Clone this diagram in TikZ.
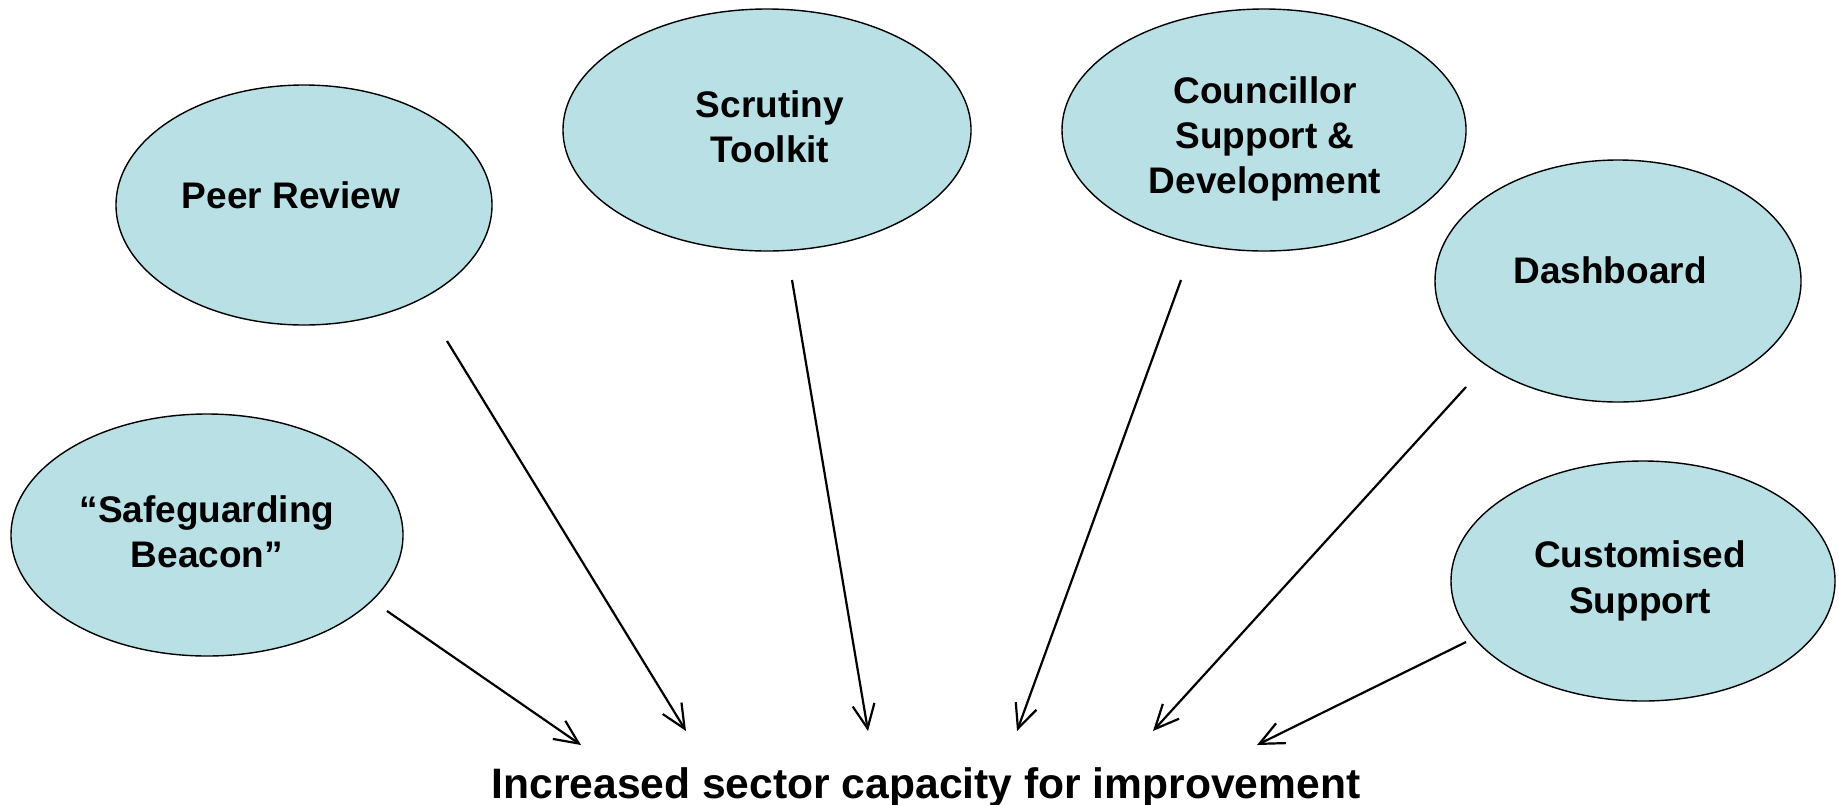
\documentclass[tikz,border=0pt]{standalone}
\usepackage{fontspec}
\setmainfont{Liberation Sans}
\usetikzlibrary{shapes.geometric,arrows.meta}
\definecolor{blobfill}{HTML}{B9E0E4}
\tikzset{
  blob/.style={ellipse, draw=black, line width=0.7pt, fill=blobfill, inner sep=0pt},
  txt/.style={align=center, font=\fontsize{18.5}{22.6}\selectfont\bfseries},
  conn/.style={-{Straight Barb[length=12pt,width=11pt,line width=1.1pt]}, line width=1.1pt},
}
\begin{document}
\begin{tikzpicture}[x=0.5pt,y=-0.5pt]
\useasboundingbox (0,0) rectangle (1839,804);
% ellipses (sizes in pt = half of pixel sizes)
\node[blob, minimum width=188pt, minimum height=120pt] (peer) at (304,205) {};
\node[blob, minimum width=204pt, minimum height=121pt] (scrut) at (767,130) {};
\node[blob, minimum width=202pt, minimum height=121pt] (coun) at (1264,130) {};
\node[blob, minimum width=183pt, minimum height=121pt] (dash) at (1618,281) {};
\node[blob, minimum width=196pt, minimum height=121pt] (safe) at (207,535) {};
\node[blob, minimum width=192pt, minimum height=120pt] (cust) at (1643,581) {};
% texts
\node[txt] (peert) at (291,195) {Peer Review};
\node[txt] (scrutt) at (770,127) {Scrutiny\\Toolkit};
\node[txt] (count) at (1265,139) {Councillor\\Support \&\\Development};
\node[txt] (dasht) at (1610,270) {Dashboard};
\node[txt] (safet) at (207,532) {“Safeguarding\\Beacon”};
\node[txt] (custt) at (1640,581) {Customised\\Support};
\node[font=\fontsize{21.3}{26}\selectfont\bfseries] (goal) at (926,787) {Increased sector capacity for improvement};
% connector ends
\coordinate (s1) at (387,611); \coordinate (e1) at (581,745);
\coordinate (s2) at (447,341); \coordinate (e2) at (686,731);
\coordinate (s3) at (792,280); \coordinate (e3) at (868,731);
\coordinate (s4) at (1181,280); \coordinate (e4) at (1017,731);
\coordinate (s5) at (1466,387); \coordinate (e5) at (1153,731);
\coordinate (s6) at (1466,642); \coordinate (e6) at (1257,745);
\draw[conn] (s1) -- (e1);
\draw[conn] (s2) -- (e2);
\draw[conn] (s3) -- (e3);
\draw[conn] (s4) -- (e4);
\draw[conn] (s5) -- (e5);
\draw[conn] (s6) -- (e6);
\end{tikzpicture}
\end{document}
